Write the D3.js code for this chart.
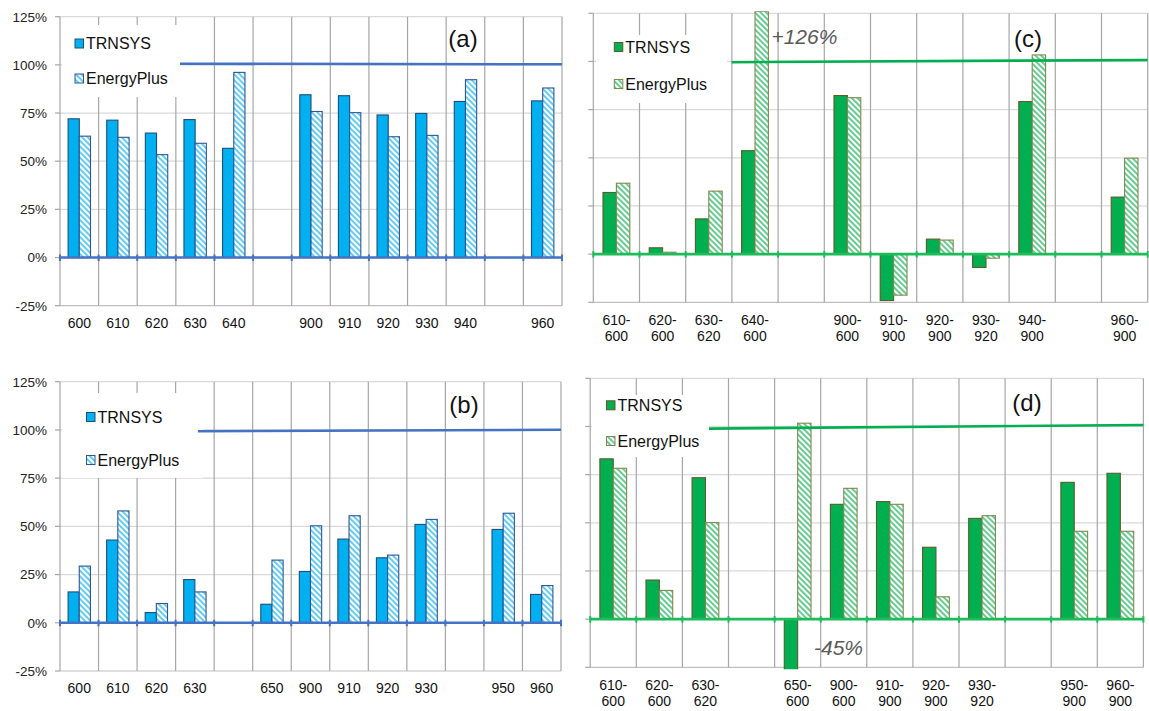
<!DOCTYPE html>
<html><head><meta charset="utf-8">
<script src="https://cdn.jsdelivr.net/npm/d3@7"></script>
<style>
html,body{margin:0;padding:0;background:#fff;}
svg{display:block;font-family:"Liberation Sans",Arial,sans-serif;}
</style></head>
<body>
<svg id="chart" width="1149" height="711"></svg>
<script>
// ---------- DATA ----------
const seriesNames = ["TRNSYS", "EnergyPlus"];
const yTicks = [-25, 0, 25, 50, 75, 100, 125];
const yTickLabels = ["-25%", "0%", "25%", "50%", "75%", "100%", "125%"];

const catsA = ["600","610","620","630","640","","900","910","920","930","940","","960"];
const trnA  = [72, 71.3, 64.6, 71.6, 56.7, null, 84.5, 84, 74, 74.8, 81, null, 81.3];
const epA   = [63, 62.4, 53.4, 59.3, 96.1, null, 75.8, 75.2, 62.7, 63.4, 92.3, null, 88];
const refA  = [100.6, 100.3];

const catsB = ["600","610","620","630","","650","900","910","920","930","","950","960"];
const trnB  = [16, 42.9, 5.3, 22.4, null, 9.6, 26.6, 43.4, 33.7, 51, null, 48.4, 14.7];
const epB   = [29.4, 58, 10, 16, null, 32.5, 50.3, 55.5, 35.1, 53.6, null, 56.8, 19.3];
const refB  = [99.3, 100.1];

const catsC = ["610-600","620-600","630-620","640-600","","900-600","910-900","920-900","930-920","940-900","","960-900"];
const trnC  = [32, 3.3, 18.3, 53.7, null, 82.3, -24.1, 7.8, -6.9, 79.2, null, 29.6];
const epC   = [36.8, 1, 32.7, 126, null, 81.2, -21.3, 7.3, -2.1, 103.4, null, 49.8];
const refC  = [99.6, 100.8];
const noteC = {text: "+126%", index: 3, value: 109};

const catsD = ["610-600","620-600","630-620","","650-600","900-600","910-900","920-900","930-920","","950-900","960-900"];
const trnD  = [83.2, 20.3, 73.4, null, -45, 59.6, 61, 37.3, 52.3, null, 71, 75.7];
const epD   = [78.3, 14.9, 50.1, null, 101.7, 67.9, 59.6, 11.6, 53.7, null, 45.6, 45.6];
const refD  = [98.9, 100.8];
const noteD = {text: "-45%", index: 4, value: -18.6};

// ---------- DRAWING ----------
const svg = d3.select("#chart");
const defs = svg.append("defs");

function hatch(id, color) {
  const p = defs.append("pattern").attr("id", id).attr("patternUnits", "userSpaceOnUse")
    .attr("width", 4).attr("height", 4).attr("patternTransform", "rotate(-45)");
  p.append("rect").attr("width", 4).attr("height", 4).attr("fill", "#fff");
  p.append("line").attr("x1", 1).attr("x2", 1).attr("y1", 0).attr("y2", 4)
    .attr("stroke", color).attr("stroke-width", 1.6);
}
hatch("hBlue", "#3cc0f0");
hatch("hGreen", "#3cc072");

const themes = {
  blue:  {fill: "#00b0f0", stroke: "#1f4e79", epFill: "url(#hBlue)", epStroke: "#2f5597", axis: "#4472c4", ref: "#4472c4"},
  green: {fill: "#00b050", stroke: "#5b5b2b", epFill: "url(#hGreen)", epStroke: "#85854f", axis: "#1dbb5a", ref: "#00b050"}
};

function panel(o) {
  const th = themes[o.theme];
  const n = o.cats.length;
  const g = svg.append("g");
  const x = d3.scaleBand().domain(d3.range(n)).range([o.x0, o.x1]);
  const y = d3.scaleLinear().domain([-25, 125]).range([o.yb, o.yt]);
  const bw = x.bandwidth() * 0.29;

  // horizontal gridlines
  g.selectAll(".hg").data(yTicks).join("line")
    .attr("x1", o.x0).attr("x2", o.x1)
    .attr("y1", d => y(d)).attr("y2", d => y(d))
    .attr("stroke", d => d === -25 ? "#bfbfbf" : "#d9d9d9").attr("stroke-width", 1.2);
  // vertical gridlines at band boundaries
  const bounds = d3.range(1, n + 1).map(i => i < n ? x(i) : o.x1);
  g.selectAll(".vg").data(bounds).join("line")
    .attr("x1", d => d).attr("x2", d => d).attr("y1", o.yt).attr("y2", o.yb)
    .attr("stroke", "#a6a6a6").attr("stroke-width", 1.2);
  // left axis with ticks
  g.append("line").attr("x1", o.x0).attr("x2", o.x0).attr("y1", o.yt).attr("y2", o.yb)
    .attr("stroke", "#a6a6a6").attr("stroke-width", 1.2);
  g.selectAll(".yt").data(yTicks).join("line")
    .attr("x1", o.x0 - 5).attr("x2", o.x0).attr("y1", d => y(d)).attr("y2", d => y(d))
    .attr("stroke", "#a6a6a6").attr("stroke-width", 1.2);
  if (o.yLabels) {
    g.selectAll(".yl").data(yTicks).join("text")
      .attr("x", o.x0 - 13).attr("y", d => y(d)).attr("dy", "0.36em")
      .attr("text-anchor", "end").attr("font-size", 13.5).attr("fill", "#222")
      .text((d, i) => yTickLabels[i]);
  }

  // legend white box
  const L = o.legend;
  g.append("rect").attr("x", L.bx).attr("y", L.by).attr("width", L.bw).attr("height", L.bh).attr("fill", "#fff");
  [0, 1].forEach(k => {
    const cy = k === 0 ? L.y1 : L.y2;
    g.append("rect").attr("x", L.sx).attr("y", cy - 4.5).attr("width", 8.5).attr("height", 9)
      .attr("fill", k === 0 ? th.fill : th.epFill).attr("stroke", k === 0 ? th.stroke : th.epStroke).attr("stroke-width", 1);
    g.append("text").attr("x", L.sx + 11).attr("y", cy + 5.8).attr("font-size", 16).attr("fill", "#111")
      .text(seriesNames[k]);
  });

  // bars (clipped)
  const cid = "clip" + o.id;
  defs.append("clipPath").attr("id", cid).append("rect")
    .attr("x", o.x0).attr("y", o.yt - 2).attr("width", o.x1 - o.x0).attr("height", o.yb - o.yt + 4);
  const bars = g.append("g").attr("clip-path", `url(#${cid})`);
  const mk = (vals, k) => vals.map((v, i) => ({v, i, k})).filter(d => d.v !== null);
  const all = mk(o.trn, 0).concat(mk(o.ep, 1));
  bars.selectAll("rect").data(all).join("rect")
    .attr("x", d => x(d.i) + x.bandwidth() / 2 - bw + d.k * bw)
    .attr("width", bw)
    .attr("y", d => Math.min(y(d.v), y(0)))
    .attr("height", d => Math.abs(y(d.v) - y(0)))
    .attr("fill", d => d.k === 0 ? th.fill : th.epFill)
    .attr("stroke", d => d.k === 0 ? th.stroke : th.epStroke)
    .attr("stroke-width", 1.1);

  // zero axis with ticks
  g.append("line").attr("x1", o.x0).attr("x2", o.x1).attr("y1", y(0)).attr("y2", y(0))
    .attr("stroke", th.axis).attr("stroke-width", 2.6);
  g.selectAll(".zt").data([o.x0].concat(bounds)).join("line")
    .attr("x1", d => d).attr("x2", d => d).attr("y1", y(0) - 3).attr("y2", y(0) + 3.5)
    .attr("stroke", th.axis).attr("stroke-width", 2);

  // reference line (drawn shape)
  g.append("line").attr("x1", o.refX).attr("x2", o.x1)
    .attr("y1", y(o.ref[0])).attr("y2", y(o.ref[1]))
    .attr("stroke", th.ref).attr("stroke-width", 2.6);

  // category labels
  const cl = g.selectAll(".cl").data(o.cats).join("text")
    .attr("text-anchor", "middle").attr("font-size", 14).attr("fill", "#111")
    .attr("x", (d, i) => x(i) + x.bandwidth() / 2)
    .attr("y", o.catY);
  cl.each(function(d) {
    const t = d3.select(this);
    const parts = d.indexOf("-") > 0 ? [d.slice(0, d.indexOf("-") + 1), d.slice(d.indexOf("-") + 1)] : [d];
    parts.forEach((p, j) => t.append("tspan").attr("x", t.attr("x")).attr("dy", j === 0 ? 0 : 16).text(p));
  });

  // panel label
  g.append("text").attr("x", o.label.x).attr("y", o.label.y).attr("text-anchor", "middle")
    .attr("font-size", 24).attr("fill", "#111").text(o.label.t);

  // annotation
  if (o.note) {
    g.append("text").attr("x", x(o.note.index) + x.bandwidth() / 2 + bw + 3).attr("y", y(o.note.value))
      .attr("font-size", 21).attr("font-style", "italic").attr("fill", "#595959").text(o.note.text);
  }
}

panel({id: "a", theme: "blue", cats: catsA, trn: trnA, ep: epA, ref: refA, refX: 180,
  x0: 60, x1: 562, yt: 16.7, yb: 305.7, yLabels: true, catY: 328,
  legend: {bx: 62, by: 25, bw: 118, bh: 72, sx: 75, y1: 43.5, y2: 78.5},
  label: {t: "(a)", x: 463, y: 47}});

panel({id: "b", theme: "blue", cats: catsB, trn: trnB, ep: epB, ref: refB, refX: 198,
  x0: 60, x1: 561, yt: 381.7, yb: 671, yLabels: true, catY: 693,
  legend: {bx: 62, by: 393, bw: 141, bh: 85, sx: 86.5, y1: 417, y2: 460},
  label: {t: "(b)", x: 464, y: 413}});

panel({id: "c", theme: "green", cats: catsC, trn: trnC, ep: epC, ref: refC, refX: 731.7, note: noteC,
  x0: 593.3, x1: 1147.7, yt: 13.3, yb: 302.3, yLabels: false, catY: 325,
  legend: {bx: 596, by: 35, bw: 131, bh: 68, sx: 614.3, y1: 47, y2: 84},
  label: {t: "(c)", x: 1028, y: 47}});

panel({id: "d", theme: "green", cats: catsD, trn: trnD, ep: epD, ref: refD, refX: 709, note: noteD,
  x0: 590.2, x1: 1143.4, yt: 378.3, yb: 667.3, yLabels: false, catY: 690,
  legend: {bx: 592, by: 395, bw: 117, bh: 62, sx: 606.5, y1: 405.3, y2: 441},
  label: {t: "(d)", x: 1027, y: 411}});
</script>
</body></html>
